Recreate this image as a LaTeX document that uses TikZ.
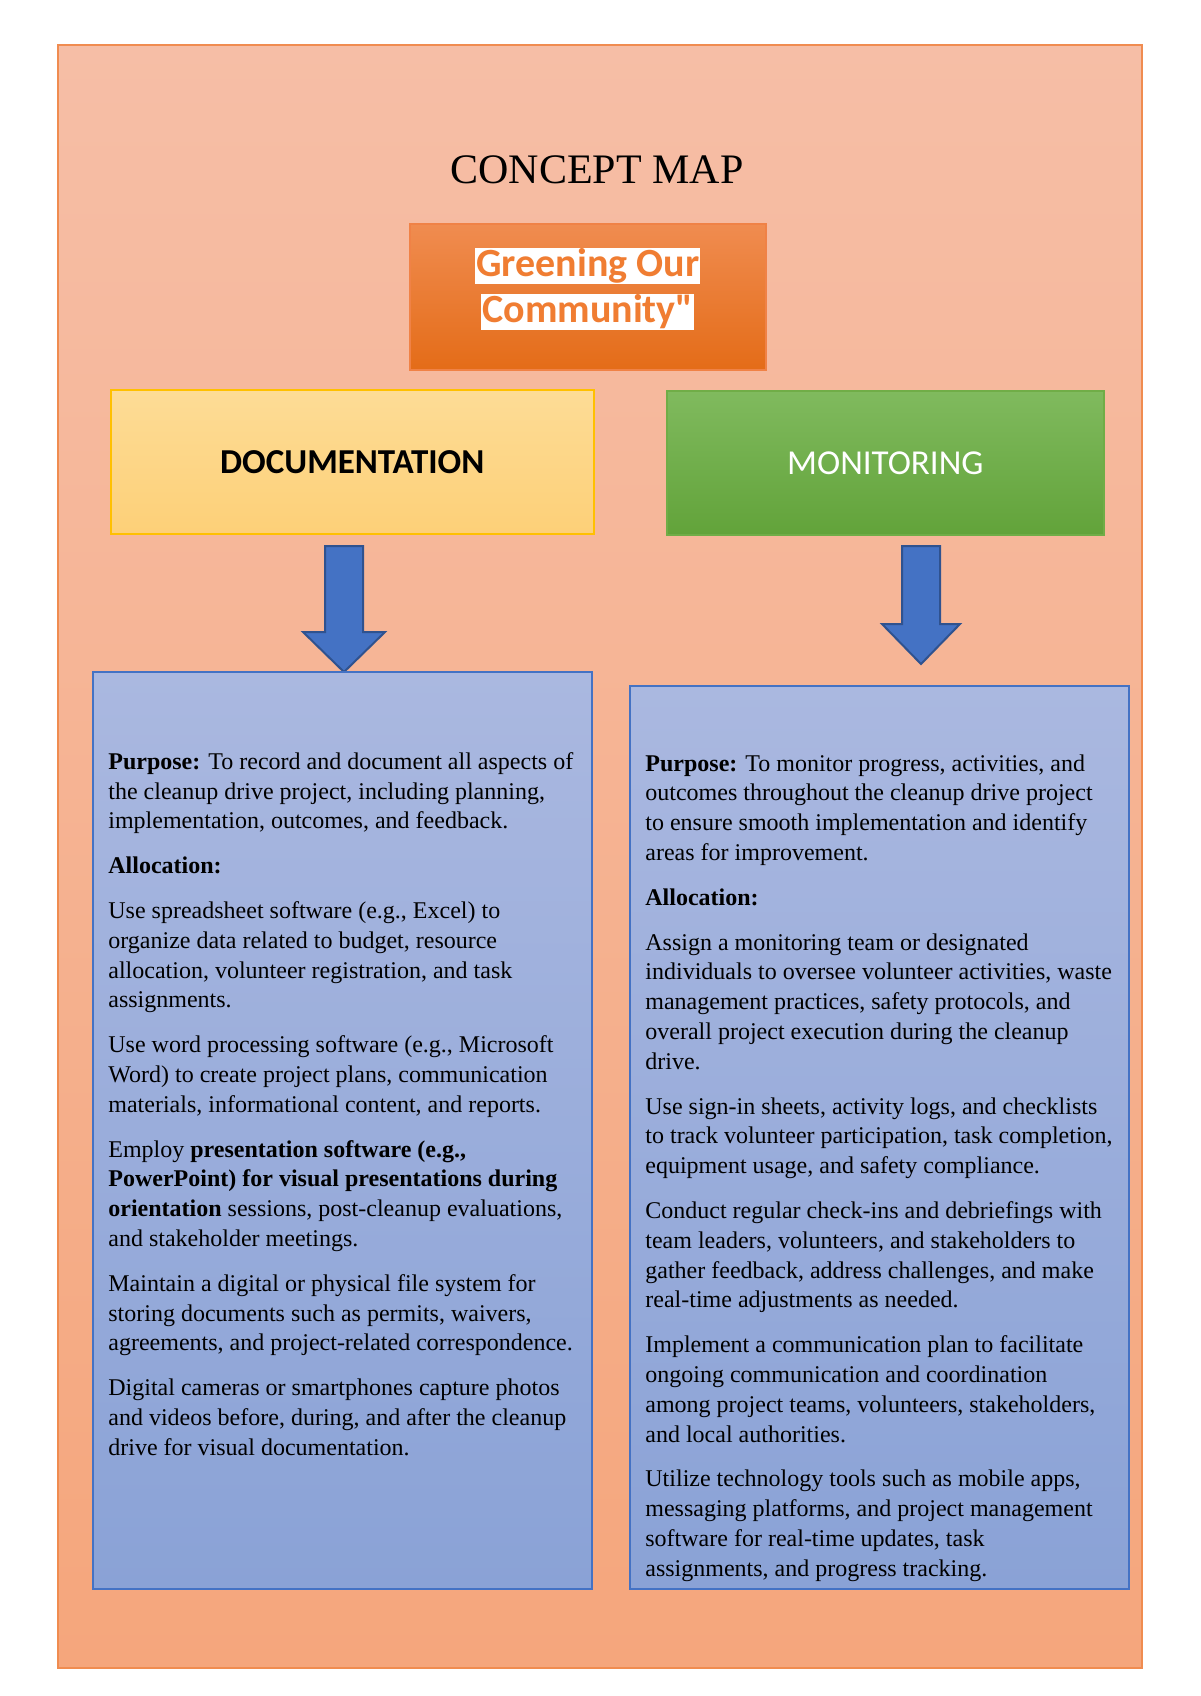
\documentclass[tikz,border=0pt]{standalone}
\usepackage{fontspec}
\setmainfont{Liberation Serif}
\newfontfamily\calib{Carlito}
\begin{document}
\begin{tikzpicture}[x=0.5pt,y=-0.5pt,
  box/.style={draw,line width=0.8pt},
  arr/.style={fill={rgb,255:red,68;green,114;blue,196},draw={rgb,255:red,47;green,82;blue,143},line width=1pt},
  txt/.style={anchor=north west,align=left,inner sep=0pt,font=\fontsize{12}{14.9}\selectfont},
  tbox/.style={box,draw={rgb,255:red,68;green,114;blue,196},top color={rgb,255:red,170;green,184;blue,224},bottom color={rgb,255:red,138;green,162;blue,214}}]
\useasboundingbox (0,0) rectangle (1200,1696);
\fill[white] (0,0) rectangle (1200,1696);
\node[box,draw={rgb,255:red,240;green,140;blue,80},top color={rgb,255:red,246;green,190;blue,166},bottom color={rgb,255:red,245;green,166;blue,124},minimum width=542pt,minimum height=811.5pt,anchor=north west,inner sep=0pt] (bg) at (57,44) {};
\node[font=\fontsize{21}{24}\selectfont] (title) at (597,170) {CONCEPT MAP};
\node[box,draw={rgb,255:red,240;green,130;blue,70},top color={rgb,255:red,240;green,140;blue,80},bottom color={rgb,255:red,228;green,108;blue,24},minimum width=178pt,minimum height=73pt,anchor=north west,inner sep=0pt] (main) at (409,223) {};
\node[font=\calib\bfseries\fontsize{20}{24}\selectfont,text={rgb,255:red,240;green,125;blue,50},align=center,inner sep=0pt] (maint) at ([yshift=4pt]main.center) {\setlength{\fboxsep}{0.5pt}\colorbox{white}{Greening Our}\\[-1pt]\setlength{\fboxsep}{0.5pt}\colorbox{white}{Community"}};
\node[box,draw={rgb,255:red,255;green,192;blue,0},top color={rgb,255:red,253;green,220;blue,150},bottom color={rgb,255:red,253;green,208;blue,120},minimum width=241.5pt,minimum height=72pt,anchor=north west,inner sep=0pt,font=\calib\bfseries\fontsize{17.5}{20}\selectfont] (doc) at (110,389) {DOCUMENTATION};
\node[box,draw={rgb,255:red,112;green,173;blue,71},top color={rgb,255:red,128;green,186;blue,94},bottom color={rgb,255:red,98;green,163;blue,58},text=white,minimum width=218.5pt,minimum height=72pt,anchor=north west,inner sep=0pt,font=\calib\fontsize{17.5}{20}\selectfont] (mon) at (666,390) {MONITORING};
\coordinate (a1) at (325,546);
\coordinate (a2) at (902,546);
\draw[arr] (a1) -- ++(38,0) -- ++(0,86) -- ++(22,0) -- ++(-41,40) -- ++(-41,-40) -- ++(22,0) -- cycle;
\draw[arr] (a2) -- ++(38,0) -- ++(0,78) -- ++(20,0) -- ++(-39,40) -- ++(-39,-40) -- ++(20,0) -- cycle;
\node[tbox,minimum width=249.5pt,minimum height=458.5pt,anchor=north west,inner sep=0pt] (lb) at (92,671) {};
\node[tbox,minimum width=249.5pt,minimum height=451.5pt,anchor=north west,inner sep=0pt] (rb) at (629,685) {};
\node[txt] (lt) at (108,752) {\textbf{Purpose:} To record and document all aspects of\\
the cleanup drive project, including planning,\\
implementation, outcomes, and feedback.\\[7.5pt]
\textbf{Allocation:}\\[7.5pt]
Use spreadsheet software (e.g., Excel) to\\
organize data related to budget, resource\\
allocation, volunteer registration, and task\\
assignments.\\[7.5pt]
Use word processing software (e.g., Microsoft\\
Word) to create project plans, communication\\
materials, informational content, and reports.\\[7.5pt]
Employ \textbf{presentation software (e.g.,}\\
\textbf{PowerPoint) for visual presentations during}\\
\textbf{orientation} sessions, post-cleanup evaluations,\\
and stakeholder meetings.\\[7.5pt]
Maintain a digital or physical file system for\\
storing documents such as permits, waivers,\\
agreements, and project-related correspondence.\\[7.5pt]
Digital cameras or smartphones capture photos\\
and videos before, during, and after the cleanup\\
drive for visual documentation.};
\node[txt] (rt) at (645,754) {\textbf{Purpose:} To monitor progress, activities, and\\
outcomes throughout the cleanup drive project\\
to ensure smooth implementation and identify\\
areas for improvement.\\[7.5pt]
\textbf{Allocation:}\\[7.5pt]
Assign a monitoring team or designated\\
individuals to oversee volunteer activities, waste\\
management practices, safety protocols, and\\
overall project execution during the cleanup\\
drive.\\[7.5pt]
Use sign-in sheets, activity logs, and checklists\\
to track volunteer participation, task completion,\\
equipment usage, and safety compliance.\\[7.5pt]
Conduct regular check-ins and debriefings with\\
team leaders, volunteers, and stakeholders to\\
gather feedback, address challenges, and make\\
real-time adjustments as needed.\\[7.5pt]
Implement a communication plan to facilitate\\
ongoing communication and coordination\\
among project teams, volunteers, stakeholders,\\
and local authorities.\\[7.5pt]
Utilize technology tools such as mobile apps,\\
messaging platforms, and project management\\
software for real-time updates, task\\
assignments, and progress tracking.};
\end{tikzpicture}
\end{document}
